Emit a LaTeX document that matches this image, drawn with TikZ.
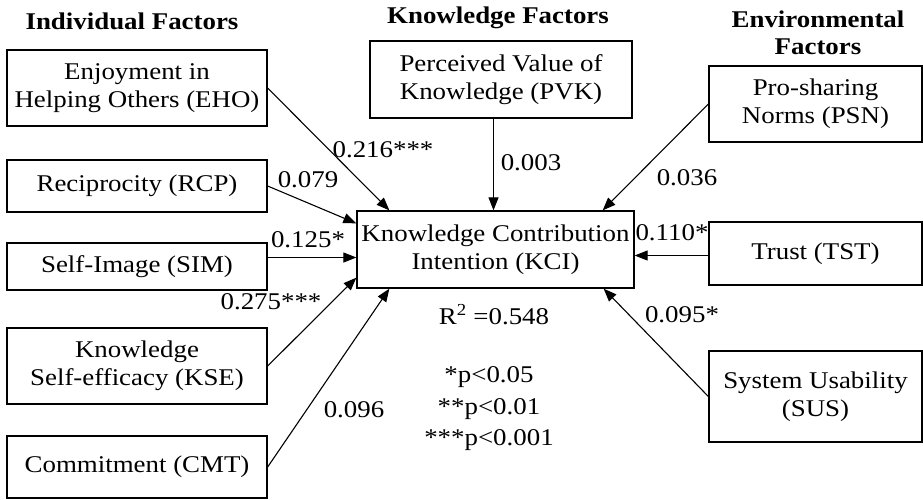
\documentclass[tikz,border=0pt]{standalone}
\usepackage{fontspec}
\setmainfont{Liberation Serif}[FakeStretch=1.12]
\usetikzlibrary{arrows.meta}
\tikzset{
  txt/.style={font=\fontsize{24}{28}\selectfont, inner sep=0pt, align=center},
  box/.style={txt, draw, line width=1.3pt, fill=white},
  head/.style={font=\fontsize{24}{27}\selectfont\bfseries, inner sep=0pt, align=center},
  lbl/.style={font=\fontsize{24}{28}\selectfont, inner sep=0pt},
  link/.style={line width=1.1pt, -{Triangle[length=13pt,width=10pt]}}
}
\begin{document}
\begin{tikzpicture}[x=1pt,y=-1pt]
\useasboundingbox[fill=white] (0,0) rectangle (923,499);
% headers
\node[head] (hind) at (132,21) {Individual Factors};
\node[head] (hknw) at (498,18) {Knowledge Factors};
\node[head] (henv) at (818,33) {Environmental\\Factors};
% left boxes
\node[box, minimum width=260pt, minimum height=76pt] (eho) at (137,88) {Enjoyment in\\Helping Others (EHO)};
\node[box, minimum width=260pt, minimum height=52pt] (rcp) at (137,186) {Reciprocity (RCP)};
\node[box, minimum width=260pt, minimum height=47pt] (sim) at (137,266.5) {Self-Image (SIM)};
\node[box, minimum width=260pt, minimum height=76pt] (kse) at (137,366) {Knowledge\\Self-efficacy (KSE)};
\node[box, minimum width=260pt, minimum height=62pt] (cmt) at (137,467) {Commitment (CMT)};
% middle
\node[box, minimum width=262pt, minimum height=77pt] (pvk) at (501,79.5) {Perceived Value of\\Knowledge (PVK)};
\node[box, minimum width=277pt, minimum height=77pt] (kci) at (495.5,249.5) {Knowledge Contribution\\Intention (KCI)};
% right
\node[box, minimum width=213pt, minimum height=76pt] (psn) at (815.5,104) {Pro-sharing\\Norms (PSN)};
\node[box, minimum width=213pt, minimum height=63pt] (tst) at (815.5,253.5) {Trust (TST)};
\node[box, minimum width=213pt, minimum height=91pt] (sus) at (815.5,396.5) {System Usability\\(SUS)};
% connectors
\draw[link] (eho.east) -- ([xshift=33pt]kci.north west);
\draw[link] (rcp.east) -- ([yshift=-13pt]kci.north west);
\draw[link] ([yshift=9pt]sim.east) -- ([yshift=9pt]sim.east -| kci.west);
\draw[link] (kse.east) -- ([yshift=11pt]kci.south west);
\draw[link] (cmt.east) -- ([xshift=33pt]kci.south west);
\draw[link] ([xshift=-2pt]pvk.south -| kci.north) -- ([xshift=-2pt]kci.north);
\draw[link] (psn.west) -- ([xshift=-32pt]kci.north east);
\draw[link] ([yshift=-2pt]tst.west) -- ([yshift=-2pt]tst.west -| kci.east);
\draw[link] (sus.west) -- ([xshift=-31pt]kci.south east);
% labels
\node[lbl] (l1) at (383,150) {0.216***};
\node[lbl] (l2) at (308,180) {0.079};
\node[lbl] (l3) at (308,240) {0.125*};
\node[lbl] (l4) at (271,302) {0.275***};
\node[lbl] (l5) at (354,410) {0.096};
\node[lbl] (l6) at (531,163) {0.003};
\node[lbl] (l7) at (687,178) {0.036};
\node[lbl] (l8) at (672,233) {0.110*};
\node[lbl] (l9) at (682,315) {0.095*};
\node[lbl] (r2) at (494,315) {R\textsuperscript{2} =0.548};
\node[txt, font=\fontsize{24}{31.5}\selectfont] (pv) at (489,409) {*p<0.05\\**p<0.01\\***p<0.001};
\end{tikzpicture}
\end{document}
